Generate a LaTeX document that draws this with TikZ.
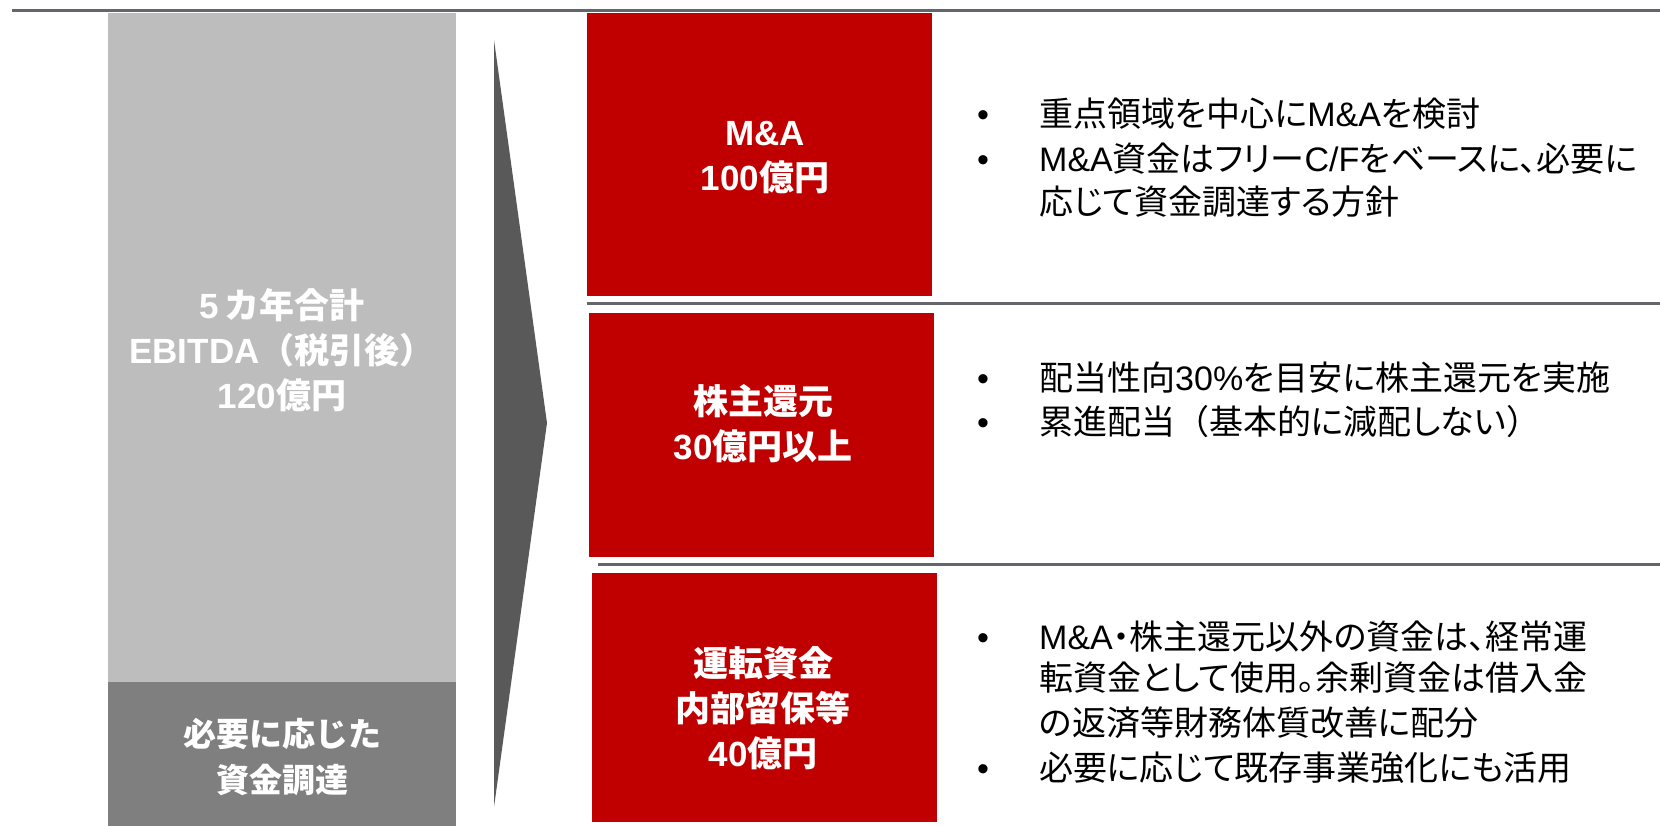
\documentclass[tikz,border=0pt]{standalone}
\usepackage{fontspec}
\setmainfont{Noto Sans CJK JP}[RawFeature=+palt]
\newfontfamily\jpfw{Noto Sans CJK JP}
\newfontfamily\lat{Liberation Sans}
\newcommand\la[1]{{\lat #1}}
\newcommand\fw[1]{{\jpfw #1}}
\definecolor{redbox}{HTML}{C00000}
\definecolor{lightgray}{HTML}{BCBDBC}
\definecolor{darkgray}{HTML}{7F7F7F}
\definecolor{chevgray}{HTML}{595959}
\definecolor{rulegray}{HTML}{63666A}
\tikzset{
  rulefine/.style={draw=rulegray,line width=3pt},
  redrect/.style={fill=redbox},
  label/.style={text=white,font=\fontsize{35}{45}\selectfont\jpfw\bfseries,align=center,inner sep=0pt},
  bul/.style={anchor=base,inner sep=0pt,font=\fontsize{34}{44}\selectfont\lat},
  btext/.style={anchor=base west,inner sep=0pt,text height=0.8em,text depth=0.12em,font=\fontsize{34}{44}\selectfont},
}
\begin{document}
\begin{tikzpicture}[x=1pt,y=-1pt]
\useasboundingbox (0,0) rectangle (1660,826);
% top rule
\coordinate (tl) at (12,11);
\coordinate (tr) at (1660,11);
\draw[rulefine] (tl) -- (tr);
% left gray column
\fill[lightgray] (108,13) rectangle (456,826);
\fill[darkgray] (108,682) rectangle (456,826);
\node[label] (ebitda) at (282,350) {\la{5}\hspace{0.15em}カ年合計\\\la{EBITDA}（税引後）\\\la{120}億円};
\node[label,font=\fontsize{33}{46}\selectfont\jpfw\bfseries] (fund) at (282,757) {必要に応じた\\資金調達};
% chevron
\fill[chevgray] (494,40) -- (547,423) -- (494,807) -- cycle;
% red boxes
\fill[redrect] (587,13) rectangle (932,296);
\fill[redrect] (589,313) rectangle (934,557);
\fill[redrect] (592,573) rectangle (937,822);
\node[label] (ma) at (765,158) {\la{M\&A}\\\la{100}億円};
\node[label] (ret) at (763,424) {株主還元\\\la{30}億円以上};
\node[label] (wc) at (763,708) {運転資金\\内部留保等\\\la{40}億円};
% separators
\coordinate (s1l) at (587,304);
\coordinate (s1r) at (1660,304);
\coordinate (s2l) at (598,564);
\coordinate (s2r) at (1660,564);
\draw[rulefine] (s1l) -- (s1r);
\draw[rulefine] (s2l) -- (s2r);
% bullets box 1
\node[bul] (b1a) at (983,127) {•};
\node[btext] (t1a) at (1039,127) {重点領域を中心に\la{M\&A}を検討};
\node[bul] (b1b) at (983,172) {•};
\node[btext] (t1b) at (1039,172) {\la{M\&A}資金はフリー\la{C/F}をベースに、必要に};
\node[btext] (t1c) at (1039,215) {応じて資金調達する方針};
% bullets box 2
\node[bul] (b2a) at (983,390) {•};
\node[btext] (t2a) at (1039,390) {配当性向\la{30\%}を目安に株主還元を実施};
\node[bul] (b2b) at (983,434) {•};
\node[btext] (t2b) at (1039,434) {累進配当\fw{（}基本的に減配しない\fw{）}};
% bullets box 3
\node[bul] (b3a) at (983,649) {•};
\node[btext] (t3a) at (1039,649) {\la{M\&A}・株主還元以外の資金は、経常運};
\node[btext] (t3b) at (1039,690) {転資金として使用。余剰資金は借入金};
\node[btext] (t3c) at (1039,735) {の返済等財務体質改善に配分};
\node[bul] (b3d) at (983,780) {•};
\node[btext] (t3d) at (1039,780) {必要に応じて既存事業強化にも活用};
\end{tikzpicture}
\end{document}
